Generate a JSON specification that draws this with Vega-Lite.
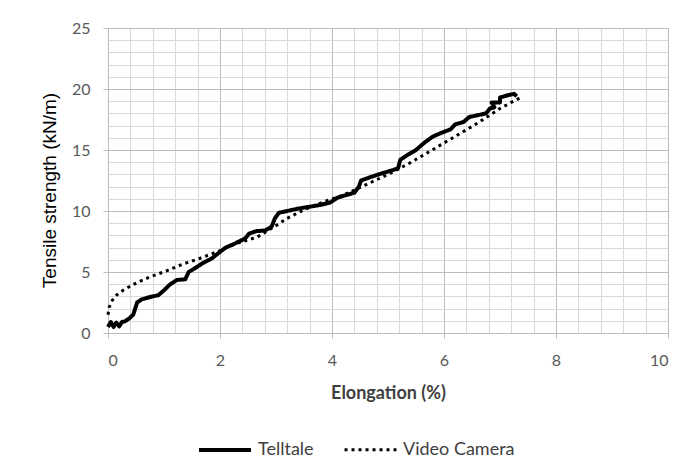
{
  "$schema": "https://vega.github.io/schema/vega-lite/v6.json",
  "width": 560,
  "height": 305,
  "autosize": {"type": "none"},
  "padding": {"left": 108, "top": 28, "right": 22, "bottom": 139},
  "background": "white",
  "config": {"view": {"stroke": null}},
  "data": {"values": [
    {"i": 1, "series": "Telltale", "elongation": 0.0, "strength": 0.5},
    {"i": 2, "series": "Telltale", "elongation": 0.05, "strength": 0.9},
    {"i": 3, "series": "Telltale", "elongation": 0.1, "strength": 0.5},
    {"i": 4, "series": "Telltale", "elongation": 0.15, "strength": 0.85},
    {"i": 5, "series": "Telltale", "elongation": 0.2, "strength": 0.55},
    {"i": 6, "series": "Telltale", "elongation": 0.25, "strength": 0.9},
    {"i": 7, "series": "Telltale", "elongation": 0.3, "strength": 0.95},
    {"i": 8, "series": "Telltale", "elongation": 0.38, "strength": 1.2},
    {"i": 9, "series": "Telltale", "elongation": 0.45, "strength": 1.5},
    {"i": 10, "series": "Telltale", "elongation": 0.5, "strength": 2.2},
    {"i": 11, "series": "Telltale", "elongation": 0.52, "strength": 2.5},
    {"i": 12, "series": "Telltale", "elongation": 0.6, "strength": 2.75},
    {"i": 13, "series": "Telltale", "elongation": 0.75, "strength": 2.95},
    {"i": 14, "series": "Telltale", "elongation": 0.9, "strength": 3.1},
    {"i": 15, "series": "Telltale", "elongation": 1.0, "strength": 3.5},
    {"i": 16, "series": "Telltale", "elongation": 1.1, "strength": 3.95},
    {"i": 17, "series": "Telltale", "elongation": 1.23, "strength": 4.35},
    {"i": 18, "series": "Telltale", "elongation": 1.38, "strength": 4.4},
    {"i": 19, "series": "Telltale", "elongation": 1.44, "strength": 5.0},
    {"i": 20, "series": "Telltale", "elongation": 1.55, "strength": 5.3},
    {"i": 21, "series": "Telltale", "elongation": 1.7, "strength": 5.75},
    {"i": 22, "series": "Telltale", "elongation": 1.85, "strength": 6.1},
    {"i": 23, "series": "Telltale", "elongation": 2.0, "strength": 6.65},
    {"i": 24, "series": "Telltale", "elongation": 2.1, "strength": 7.0},
    {"i": 25, "series": "Telltale", "elongation": 2.25, "strength": 7.3},
    {"i": 26, "series": "Telltale", "elongation": 2.45, "strength": 7.75},
    {"i": 27, "series": "Telltale", "elongation": 2.52, "strength": 8.15},
    {"i": 28, "series": "Telltale", "elongation": 2.65, "strength": 8.35},
    {"i": 29, "series": "Telltale", "elongation": 2.8, "strength": 8.4},
    {"i": 30, "series": "Telltale", "elongation": 2.92, "strength": 8.7},
    {"i": 31, "series": "Telltale", "elongation": 2.98, "strength": 9.4},
    {"i": 32, "series": "Telltale", "elongation": 3.05, "strength": 9.85},
    {"i": 33, "series": "Telltale", "elongation": 3.2, "strength": 10.0},
    {"i": 34, "series": "Telltale", "elongation": 3.4, "strength": 10.2},
    {"i": 35, "series": "Telltale", "elongation": 3.6, "strength": 10.35},
    {"i": 36, "series": "Telltale", "elongation": 3.8, "strength": 10.5},
    {"i": 37, "series": "Telltale", "elongation": 3.97, "strength": 10.7},
    {"i": 38, "series": "Telltale", "elongation": 4.1, "strength": 11.1},
    {"i": 39, "series": "Telltale", "elongation": 4.25, "strength": 11.3},
    {"i": 40, "series": "Telltale", "elongation": 4.4, "strength": 11.5},
    {"i": 41, "series": "Telltale", "elongation": 4.48, "strength": 12.0},
    {"i": 42, "series": "Telltale", "elongation": 4.52, "strength": 12.5},
    {"i": 43, "series": "Telltale", "elongation": 4.7, "strength": 12.8},
    {"i": 44, "series": "Telltale", "elongation": 4.9, "strength": 13.1},
    {"i": 45, "series": "Telltale", "elongation": 5.05, "strength": 13.3},
    {"i": 46, "series": "Telltale", "elongation": 5.18, "strength": 13.5},
    {"i": 47, "series": "Telltale", "elongation": 5.22, "strength": 14.2},
    {"i": 48, "series": "Telltale", "elongation": 5.35, "strength": 14.6},
    {"i": 49, "series": "Telltale", "elongation": 5.5, "strength": 15.0},
    {"i": 50, "series": "Telltale", "elongation": 5.65, "strength": 15.6},
    {"i": 51, "series": "Telltale", "elongation": 5.8, "strength": 16.1},
    {"i": 52, "series": "Telltale", "elongation": 5.95, "strength": 16.4},
    {"i": 53, "series": "Telltale", "elongation": 6.12, "strength": 16.7},
    {"i": 54, "series": "Telltale", "elongation": 6.2, "strength": 17.1},
    {"i": 55, "series": "Telltale", "elongation": 6.35, "strength": 17.3},
    {"i": 56, "series": "Telltale", "elongation": 6.45, "strength": 17.7},
    {"i": 57, "series": "Telltale", "elongation": 6.6, "strength": 17.85},
    {"i": 58, "series": "Telltale", "elongation": 6.75, "strength": 18.0},
    {"i": 59, "series": "Telltale", "elongation": 6.82, "strength": 18.4},
    {"i": 60, "series": "Telltale", "elongation": 6.9, "strength": 18.5},
    {"i": 61, "series": "Telltale", "elongation": 6.85, "strength": 18.9},
    {"i": 62, "series": "Telltale", "elongation": 7.0, "strength": 18.9},
    {"i": 63, "series": "Telltale", "elongation": 7.0, "strength": 19.3},
    {"i": 64, "series": "Telltale", "elongation": 7.15, "strength": 19.5},
    {"i": 65, "series": "Telltale", "elongation": 7.25, "strength": 19.6},
    {"i": 66, "series": "Telltale", "elongation": 7.3, "strength": 19.4},
    {"i": 1, "series": "Video Camera", "elongation": 0.0, "strength": 1.5},
    {"i": 2, "series": "Video Camera", "elongation": 0.02, "strength": 2.1},
    {"i": 3, "series": "Video Camera", "elongation": 0.08, "strength": 2.7},
    {"i": 4, "series": "Video Camera", "elongation": 0.15, "strength": 3.1},
    {"i": 5, "series": "Video Camera", "elongation": 0.27, "strength": 3.5},
    {"i": 6, "series": "Video Camera", "elongation": 0.4, "strength": 3.85},
    {"i": 7, "series": "Video Camera", "elongation": 0.55, "strength": 4.2},
    {"i": 8, "series": "Video Camera", "elongation": 0.7, "strength": 4.5},
    {"i": 9, "series": "Video Camera", "elongation": 0.87, "strength": 4.8},
    {"i": 10, "series": "Video Camera", "elongation": 1.05, "strength": 5.1},
    {"i": 11, "series": "Video Camera", "elongation": 1.23, "strength": 5.45},
    {"i": 12, "series": "Video Camera", "elongation": 1.4, "strength": 5.75},
    {"i": 13, "series": "Video Camera", "elongation": 1.6, "strength": 6.05},
    {"i": 14, "series": "Video Camera", "elongation": 1.8, "strength": 6.4},
    {"i": 15, "series": "Video Camera", "elongation": 2.0, "strength": 6.75},
    {"i": 16, "series": "Video Camera", "elongation": 2.3, "strength": 7.35},
    {"i": 17, "series": "Video Camera", "elongation": 2.66, "strength": 7.85},
    {"i": 18, "series": "Video Camera", "elongation": 3.0, "strength": 8.8},
    {"i": 19, "series": "Video Camera", "elongation": 3.2, "strength": 9.4},
    {"i": 20, "series": "Video Camera", "elongation": 3.5, "strength": 10.1},
    {"i": 21, "series": "Video Camera", "elongation": 3.85, "strength": 10.75},
    {"i": 22, "series": "Video Camera", "elongation": 4.2, "strength": 11.3},
    {"i": 23, "series": "Video Camera", "elongation": 4.63, "strength": 12.2},
    {"i": 24, "series": "Video Camera", "elongation": 5.0, "strength": 13.0},
    {"i": 25, "series": "Video Camera", "elongation": 5.4, "strength": 13.96},
    {"i": 26, "series": "Video Camera", "elongation": 5.75, "strength": 14.9},
    {"i": 27, "series": "Video Camera", "elongation": 6.12, "strength": 15.9},
    {"i": 28, "series": "Video Camera", "elongation": 6.6, "strength": 17.2},
    {"i": 29, "series": "Video Camera", "elongation": 7.0, "strength": 18.4},
    {"i": 30, "series": "Video Camera", "elongation": 7.2, "strength": 18.9},
    {"i": 31, "series": "Video Camera", "elongation": 7.37, "strength": 19.3}
  ]},
  "mark": {"type": "line", "color": "black", "strokeCap": "butt", "strokeJoin": "round"},
  "encoding": {
    "x": {
      "field": "elongation", "type": "quantitative",
      "scale": {"domain": [0, 10], "nice": false, "zero": true},
      "axis": {
        "values": [0, 0.4, 0.8, 1.2, 1.6, 2, 2.4, 2.8, 3.2, 3.6, 4, 4.4, 4.8, 5.2, 5.6, 6, 6.4, 6.8, 7.2, 7.6, 8, 8.4, 8.8, 9.2, 9.6, 10],
        "labelExpr": "datum.value % 2 === 0 ? '' + datum.value : ''",
        "grid": true,
        "gridColor": {"condition": {"test": "datum.value % 2 === 0", "value": "#bdbdbd"}, "value": "#d9d9d9"},
        "tickColor": {"condition": {"test": "datum.value % 2 === 0", "value": "#bdbdbd"}, "value": "transparent"},
        "tickSize": 5,
        "domainColor": "#bdbdbd",
        "labelFont": "Lato", "labelFontSize": 16, "labelColor": "#595959", "labelPadding": 14,
        "labelOverlap": false,
        "title": "Elongation (%)", "titleFont": "Lato", "titleFontWeight": "bold", "titleFontSize": 18,
        "titleColor": "#404040", "titlePadding": 16
      }
    },
    "y": {
      "field": "strength", "type": "quantitative",
      "scale": {"domain": [0, 25], "nice": false},
      "axis": {
        "values": [0, 1, 2, 3, 4, 5, 6, 7, 8, 9, 10, 11, 12, 13, 14, 15, 16, 17, 18, 19, 20, 21, 22, 23, 24, 25],
        "labelExpr": "datum.value % 5 === 0 ? '' + datum.value : ''",
        "grid": true,
        "gridColor": {"condition": {"test": "datum.value % 5 === 0", "value": "#bdbdbd"}, "value": "#d9d9d9"},
        "tickColor": {"condition": {"test": "datum.value % 5 === 0", "value": "#bdbdbd"}, "value": "transparent"},
        "tickSize": 5,
        "domainColor": "#bdbdbd",
        "labelFont": "Lato", "labelFontSize": 16, "labelColor": "#595959", "labelPadding": 13,
        "labelOverlap": false,
        "title": "Tensile strength (kN/m)", "titleFont": "Liberation Sans", "titleFontWeight": "normal",
        "titleFontSize": 19, "titleColor": "#000000", "titlePadding": 12, "titleY": 162
      }
    },
    "order": {"field": "i", "type": "quantitative"},
    "strokeDash": {
      "field": "series", "type": "nominal",
      "scale": {"domain": ["Telltale", "Video Camera"], "range": [[1, 0], [3, 4]]},
      "legend": {
        "title": null, "orient": "none", "direction": "horizontal",
        "legendX": 89, "legendY": 394,
        "symbolType": "stroke", "symbolSize": 2700, "symbolStrokeColor": "black",
        "labelFont": "Lato", "labelFontSize": 18, "labelColor": "#404040", "labelOffset": 5,
        "columnPadding": 24
      }
    },
    "strokeWidth": {
      "field": "series", "type": "nominal",
      "scale": {"domain": ["Telltale", "Video Camera"], "range": [4, 3]},
      "legend": {
        "title": null, "orient": "none", "direction": "horizontal",
        "legendX": 89, "legendY": 394,
        "symbolType": "stroke", "symbolSize": 2700, "symbolStrokeColor": "black",
        "labelFont": "Lato", "labelFontSize": 18, "labelColor": "#404040", "labelOffset": 5,
        "columnPadding": 24
      }
    }
  }
}
